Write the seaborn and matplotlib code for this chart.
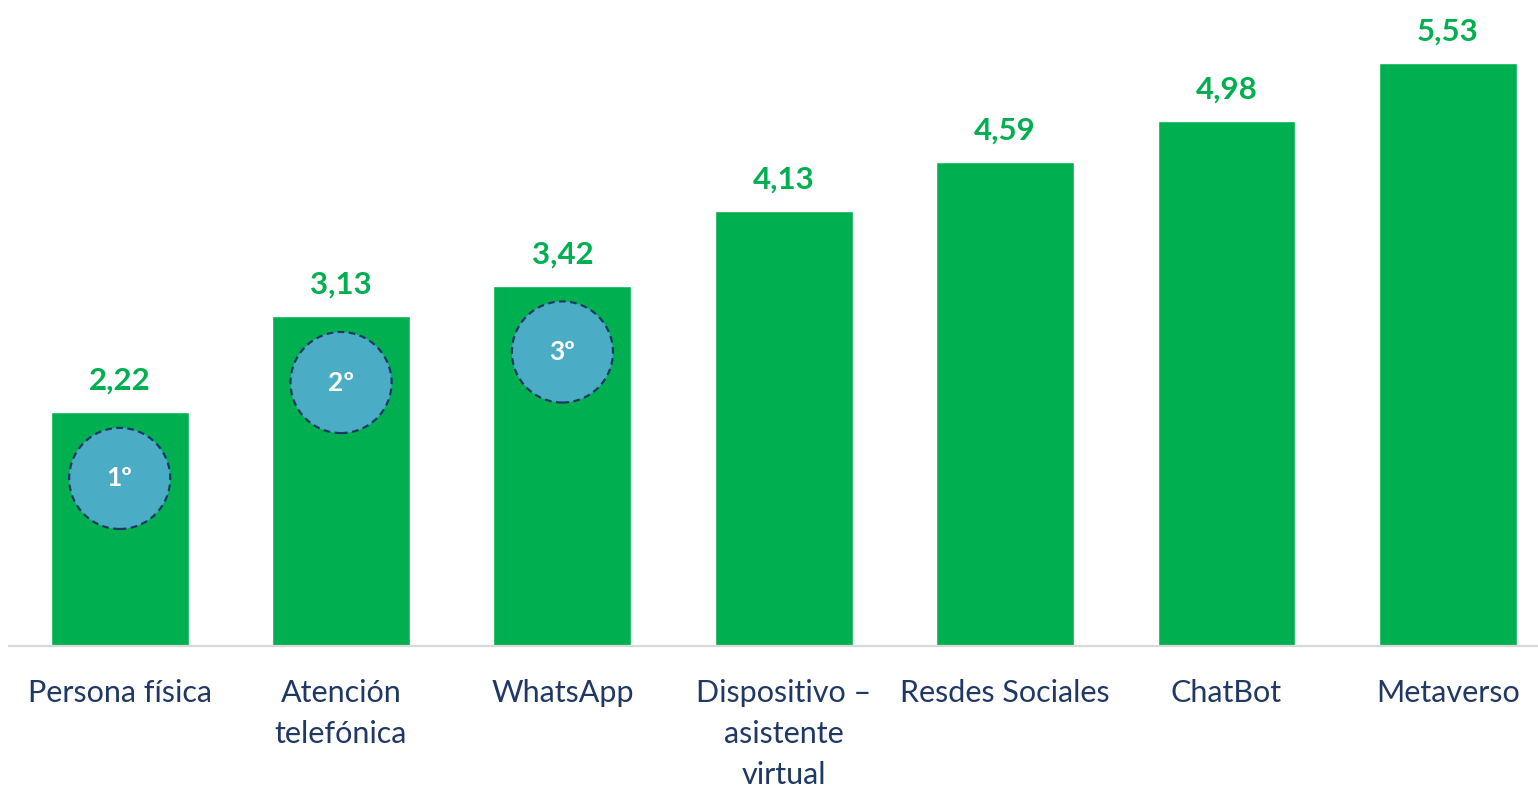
import numpy as np
import pandas as pd
import seaborn as sns
import matplotlib
matplotlib.use("Agg")
import matplotlib.pyplot as plt

sns.set_theme(style="white")
plt.rcParams['font.family'] = ['Lato', 'DejaVu Sans']

categorias = ['Persona física', 'Atención\ntelefónica', 'WhatsApp',
              'Dispositivo –\nasistente\nvirtual', 'Resdes Sociales',
              'ChatBot', 'Metaverso']
valores = [2.22, 3.13, 3.42, 4.13, 4.59, 4.98, 5.53]
ranking = ['1º', '2º', '3º']

verde = '#00B050'
azul_osc = '#1F3864'
azul_circ = '#4BACC6'

df = pd.DataFrame({'canal': categorias, 'valor': valores})

fig = plt.figure(figsize=(15.38, 7.87), dpi=100)
ax = fig.add_axes([9 / 1538, 141 / 787, 1529 / 1538, 646 / 787])

sns.barplot(data=df, x='canal', y='valor', color=verde, saturation=1,
            width=0.623, ax=ax)

ax.set_xlim(-0.5, 6.407)
ax.set_ylim(0, 6.13)

# etiquetas de valor
for i, v in enumerate(valores):
    ax.annotate(f'{v:.2f}'.replace('.', ','), (i, v), xytext=(0, 16),
                textcoords='offset points', ha='center', va='baseline',
                color=verde, fontsize=22.5, fontweight='bold')

# círculos de ranking
for i, r in enumerate(ranking):
    yc = valores[i] - 0.63
    ax.scatter([i], [yc], s=5300, color=azul_circ, edgecolors=azul_osc,
               linewidths=1.6, linestyle=(0, (3, 2)), zorder=5)
    ax.text(i, yc, r, ha='center', va='center', color='white',
            fontsize=19, fontweight='bold', zorder=6)

ax.set_xlabel('')
ax.set_ylabel('')
ax.set_yticks([])
ax.tick_params(axis='x', length=0, pad=24, labelsize=22, labelcolor=azul_osc)
for lab in ax.get_xticklabels():
    lab.set_linespacing(1.55)

for s in ['top', 'right', 'left']:
    ax.spines[s].set_visible(False)
ax.spines['bottom'].set_color('#D9D9D9')
ax.spines['bottom'].set_linewidth(1.6)

fig.savefig('out.png', dpi=100)
